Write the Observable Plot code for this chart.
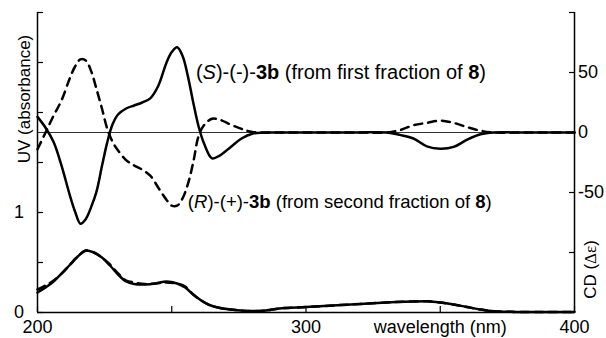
<!DOCTYPE html>
<html><head><meta charset="utf-8">
<script src="https://cdn.jsdelivr.net/npm/d3@7"></script>
<script src="https://cdn.jsdelivr.net/npm/@observablehq/plot@0.6"></script>
<style>
html,body{margin:0;padding:0;background:#fff;}
</style>
</head><body><div id="chart"></div>
<script>
// CD spectra (Δε), right axis
const cdWavelength = [200,203,206,209,212,214,216,218,220,222,224,226,228,230,233,236,239,242,245,248,250,252,254,256,258,260,262,265,268,272,276,280,290,300,310,320,330,335,340,345,350,355,360,365,370,380,390,400];
const cdFirstFraction = [13,4,-8,-28,-52,-66,-76,-72,-62,-49,-28,-8,7,15,20,22.5,25,28.5,39,58,67,71,64,47,25,5,-9,-21.5,-19,-12,-5,-1,0,0,0,0,0,-2,-5,-11.5,-13.5,-12,-6,-1.5,0,0,0,0];
const cdSecondFraction = [-14,0,14,27,45,55,61,60,51,36,20,3,-8,-15,-23,-27.5,-31,-36,-46,-56,-61,-61,-55,-43,-25,-3,6,11.5,10.5,6.5,3,0.5,0,0,0,0,0,2,6,8,9.8,8,4.5,1.5,0,0,0,0];

// UV spectra (absorbance), left axis
const uvWavelength = [200,203,206,209,212,215,218,221,224,227,230,233,236,240,244,248,252,255,258,261,264,268,272,278,285,290,300,310,320,330,340,345,350,355,360,365,370,375,380,390,400];
const uvFirstFraction = [0.20,0.25,0.31,0.39,0.475,0.56,0.62,0.60,0.55,0.47,0.38,0.31,0.285,0.28,0.29,0.31,0.29,0.25,0.18,0.12,0.075,0.045,0.03,0.015,0.02,0.04,0.055,0.07,0.085,0.10,0.11,0.112,0.10,0.08,0.055,0.03,0.012,0.008,0.005,0.005,0.005];
const uvSecondFraction = [0.23,0.27,0.32,0.39,0.475,0.56,0.62,0.60,0.55,0.48,0.39,0.32,0.30,0.285,0.29,0.30,0.29,0.26,0.18,0.12,0.075,0.045,0.03,0.015,0.02,0.04,0.055,0.07,0.085,0.10,0.11,0.112,0.10,0.08,0.055,0.03,0.012,0.008,0.005,0.005,0.005];

// axes
const xTicks = [200,250,300,350,400];
const xTickLabels = ["200","","300","","400"];
const uvTicks = [0,0.5,1,1.5,2,2.5,3];
const uvTickLabels = ["0","","1","","","",""];
const cdTicks = [-150,-100,-50,0,50,100];
const cdTickLabels = ["","","-50","0","50",""];

// annotations
const annotations = ["(S)-(-)-3b (from first fraction of 8)", "(R)-(+)-3b (from second fraction of 8)"];
const annotationX = [259, 256];
const annotationY = [50, -58];
const annotationSize = [20, 18.5];
const xTitle = "wavelength (nm)";
const uvTitle = "UV (absorbance)";
const cdTitle = "CD (Δε)";

const richRuns = {
  [annotations[0]]: [["(",""],["S","i"],[")-(-)-",""],["3b","b"],[" (from first fraction of ",""],["8","b"],[")",""]],
  [annotations[1]]: [["(",""],["R","i"],[")-(+)-",""],["3b","b"],[" (from second fraction of ",""],["8","b"],[")",""]],
  [cdTitle]: [["CD (",""],["Δε","serif"],[")",""]]
};

const CD_DOMAIN = [-150, 100];
const UV_MAX = 3;
const uvToCd = a => CD_DOMAIN[0] + a * (CD_DOMAIN[1] - CD_DOMAIN[0]) / UV_MAX;
const near = (arr, v, f) => arr.findIndex(t => Math.abs(f(t) - v) < 1e-6);

const cdS = cdWavelength.map((w,i) => ({w, v: cdFirstFraction[i]}));
const cdR = cdWavelength.map((w,i) => ({w, v: cdSecondFraction[i]}));
const uvS = uvWavelength.map((w,i) => ({w, a: uvFirstFraction[i]}));
const uvR = uvWavelength.map((w,i) => ({w, a: uvSecondFraction[i]}));
const ann = annotations.map((t,i) => ({t, x: annotationX[i], y: annotationY[i], s: annotationSize[i]}));

const LW = 2.5;
const chart = Plot.plot({
  width: 606, height: 338,
  marginLeft: 37, marginRight: 32, marginTop: 12, marginBottom: 26,
  x: {domain: [200, 400]},
  y: {domain: CD_DOMAIN},
  style: {fontFamily: "'Liberation Sans', Arial, sans-serif", fontSize: "18px", color: "black", background: "white", overflow: "visible"},
  marks: [
    Plot.ruleY([0], {stroke: "#333", strokeWidth: 1.2}),
    Plot.line(uvR, {x: "w", y: d => uvToCd(d.a), curve: "catmull-rom", stroke: "black", strokeWidth: LW, strokeDasharray: "8,6"}),
    Plot.line(uvS, {x: "w", y: d => uvToCd(d.a), curve: "catmull-rom", stroke: "black", strokeWidth: LW}),
    Plot.line(cdR, {x: "w", y: "v", curve: "catmull-rom", stroke: "black", strokeWidth: LW, strokeDasharray: "8,6"}),
    Plot.line(cdS, {x: "w", y: "v", curve: "catmull-rom", stroke: "black", strokeWidth: LW}),
    Plot.ruleX([200, 400], {stroke: "black", strokeWidth: 1.5}),
    Plot.ruleY([CD_DOMAIN[0]], {stroke: "black", strokeWidth: 1.5}),
    Plot.axisX({ticks: xTicks, tickSize: -6, tickPadding: 14, strokeWidth: 1.2, label: null,
      tickFormat: d => xTickLabels[near(xTicks, d, t => t)] ?? ""}),
    Plot.axisY({anchor: "left", ticks: uvTicks.map(uvToCd), tickSize: -6, tickPadding: 19.5, strokeWidth: 1.2, label: null,
      tickFormat: d => uvTickLabels[near(uvTicks, d, uvToCd)] ?? ""}),
    Plot.axisY({anchor: "right", ticks: cdTicks, tickSize: -6, tickPadding: 9.5, strokeWidth: 1.2, label: null,
      tickFormat: d => cdTickLabels[near(cdTicks, d, t => t)] ?? ""}),
    Plot.text([xTitle], {x: 350, frameAnchor: "bottom", lineAnchor: "top", dy: 8, fill: "black"}),
    Plot.text([uvTitle], {frameAnchor: "top-left", dx: -13, dy: 86.5, rotate: -90, textAnchor: "middle", lineAnchor: "middle", fill: "black", fontSize: 17}),
    Plot.text([cdTitle], {frameAnchor: "bottom-right", dx: 16.5, dy: -43, rotate: -90, textAnchor: "middle", lineAnchor: "middle", fill: "black", fontSize: 17}),
    Plot.text(ann.slice(0,1), {x: "x", y: "y", text: "t", textAnchor: "start", lineAnchor: "middle", fontSize: annotationSize[0], fill: "black"}),
    Plot.text(ann.slice(1,2), {x: "x", y: "y", text: "t", textAnchor: "start", lineAnchor: "middle", fontSize: annotationSize[1], fill: "black"})
  ]
});

// apply italic / bold / serif runs inside labels
chart.querySelectorAll("text").forEach(el => {
  const runs = richRuns[el.textContent];
  if (!runs) return;
  while (el.firstChild) el.removeChild(el.firstChild);
  for (const [s, st] of runs) {
    const ts = document.createElementNS("http://www.w3.org/2000/svg", "tspan");
    ts.textContent = s;
    if (st === "i") ts.setAttribute("font-style", "italic");
    if (st === "b") ts.setAttribute("font-weight", "bold");
    if (st === "serif") ts.setAttribute("font-family", "'Liberation Serif', 'DejaVu Serif', serif");
    el.appendChild(ts);
  }
});
document.getElementById("chart").appendChild(chart);
</script>
</body></html>
